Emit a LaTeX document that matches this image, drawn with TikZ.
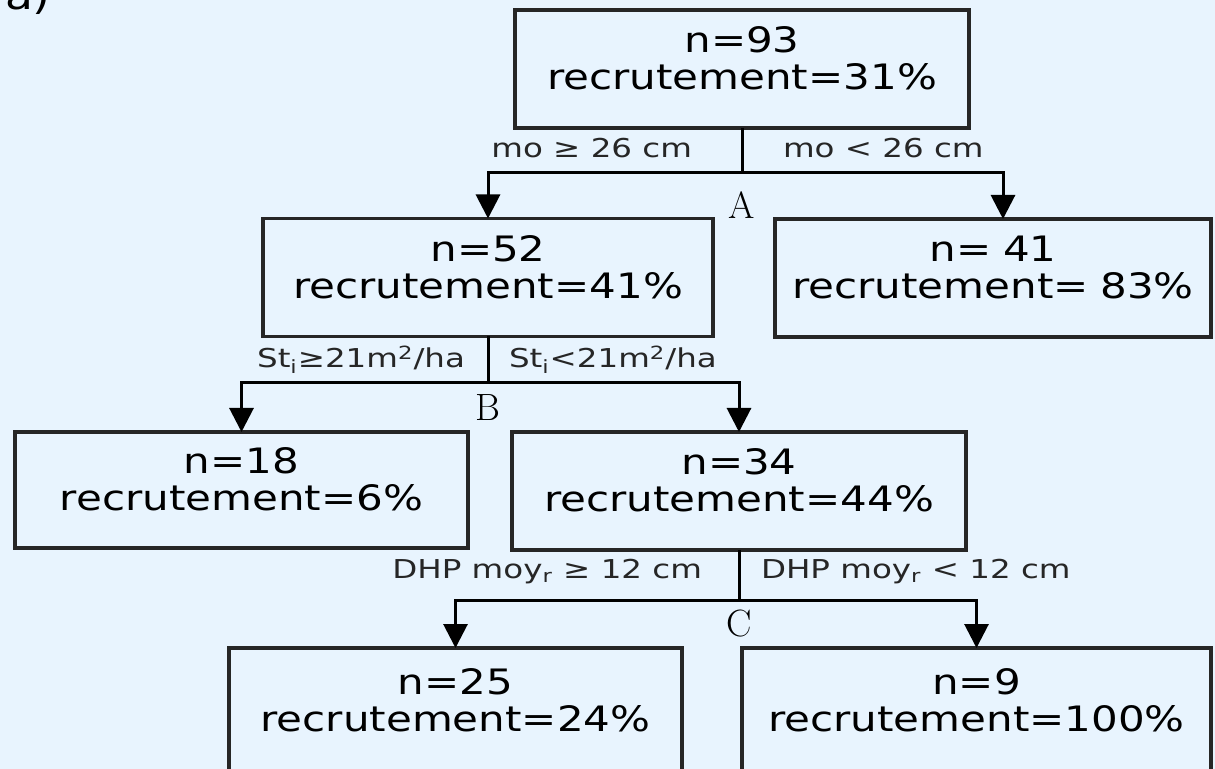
\documentclass[tikz,border=0pt]{standalone}
\usepackage{fontspec}
\usetikzlibrary{arrows.meta, positioning}
\newfontfamily\boxfont[FakeStretch=1.2]{DejaVu Sans}
\newfontfamily\condfont[FakeStretch=1.25]{DejaVu Sans}
\definecolor{bgblue}{HTML}{E8F4FE}
\tikzset{
	res/.style = {rectangle, draw = black!85, line width = 1.6pt, minimum height = 59pt, text width = 210pt, text height = 15pt, text depth = 31pt, align = center, font = {\boxfont\fontsize{17.5pt}{18.5pt}\selectfont}},
	cond/.style = {text = black!85, font = {\condfont\fontsize{13pt}{15pt}\selectfont}},
	letter/.style = {font = {\rmfamily\fontsize{19pt}{20pt}\selectfont}},
	stem/.style = {draw = black, line width = 1.5pt},
	arrow/.style = {-{Triangle[width = 12pt, length = 12pt]}, draw = black, line width = 1.5pt}
}
\begin{document}
\begin{tikzpicture}[x = 0.5pt, y = -0.5pt, node distance = 0pt, inner sep = 0pt, outer sep = 0pt]
	\useasboundingbox (0,0) rectangle (1215,769);
	\clip (0,0) rectangle (1215,769);
	\fill [bgblue] (0,0) rectangle (1215,769);
	
	\node (tag) [anchor = base west, font = {\boxfont\fontsize{19pt}{24pt}\selectfont}] at (5,10) {a)};
	
	%%%%%%%% boxes %%%%%%%%
	\node (n93) [res, minimum width = 227pt] at (742,69) {n=93\\recrutement=31\%};
	% split A
	\node (n52) [res, minimum width = 225pt, below of = n93, xshift = -127pt, yshift = -104.25pt] {n=52\\recrutement=41\%};
	\node (n41) [res, minimum width = 218pt, below of = n93, xshift = 125.5pt, yshift = -104.5pt] {n= 41\\recrutement= 83\%};
	% split B
	\node (n18) [res, minimum width = 226.5pt, minimum height = 58pt, below of = n52, xshift = -123.25pt, yshift = -106.25pt] {n=18\\recrutement=6\%};
	\node (n34) [res, minimum width = 227pt, below of = n52, xshift = 125.5pt, yshift = -106.75pt] {n=34\\recrutement=44\%};
	% split C
	\node (n25) [res, minimum width = 226.5pt, minimum height = 62pt, below of = n34, xshift = -141.75pt, yshift = -109.5pt] {n=25\\recrutement=24\%};
	\node (n9) [res, minimum width = 234.5pt, minimum height = 62pt, below of = n34, xshift = 118.75pt, yshift = -109.5pt] {n=9\\recrutement=100\%};
	
	%%% split points %%%
	\coordinate [below = 22.5pt of n93.south] (splitA);
	\coordinate [below = 23pt of n52.south] (splitB);
	\coordinate [below = 25pt of n34.south] (splitC);
	
	\node (ltrA) [letter, below of = splitA, yshift = -16pt] {A};
	\node (ltrB) [letter, below of = splitB, yshift = -12.5pt] {B};
	\node (ltrC) [letter, below of = splitC, yshift = -12pt] {C};
	
	% conditions
	\node (condA1) [cond, anchor = east] at ([xshift = -25pt, yshift = 12.5pt]splitA) {mo ≥ 26 cm};
	\node (condA2) [cond, anchor = west] at ([xshift = 20.5pt, yshift = 12.5pt]splitA) {mo < 26 cm};
	\node (condB1) [cond, anchor = east] at ([xshift = -11.5pt, yshift = 11.5pt]splitB) {St\textsubscript{i}≥21m\textsuperscript{2}/ha};
	\node (condB2) [cond, anchor = west] at ([xshift = 10.5pt, yshift = 11.5pt]splitB) {St\textsubscript{i}<21m\textsuperscript{2}/ha};
	\node (condC1) [cond, anchor = east] at ([xshift = -18.5pt, yshift = 14pt]splitC) {DHP moy\textsubscript{r} ≥ 12 cm};
	\node (condC2) [cond, anchor = west] at ([xshift = 11pt, yshift = 14pt]splitC) {DHP moy\textsubscript{r} < 12 cm};
	
	%%% arrows %%%
	\draw [stem] (n93.south) -- (splitA);
	\draw [arrow] (splitA) -| (n52.north);
	\draw [arrow] (splitA) -| ([xshift = 5pt]n41.north);
	
	\draw [stem] (n52.south) -- (splitB);
	\draw [arrow] (splitB) -| (n18.north);
	\draw [arrow] (splitB) -| (n34.north);
	
	\draw [stem] (n34.south) -- (splitC);
	\draw [arrow] (splitC) -| (n25.north);
	\draw [arrow] (splitC) -| (n9.north);
\end{tikzpicture}
\end{document}
